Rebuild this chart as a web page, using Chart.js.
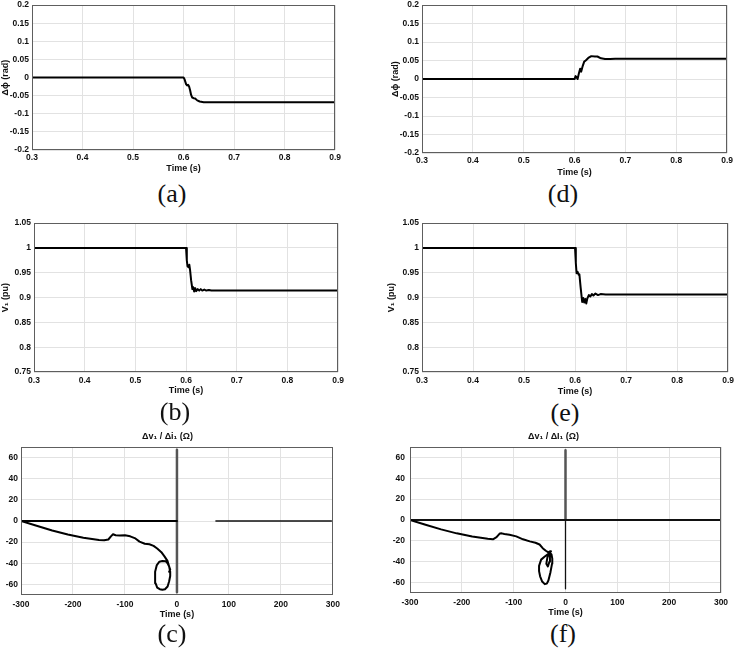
<!DOCTYPE html>
<html>
<head>
<meta charset="utf-8">
<script src="https://cdn.jsdelivr.net/npm/chart.js@4.4.1/dist/chart.umd.min.js"></script>
<style>
  body { margin: 0; background: #fff; }
  #fig { position: relative; width: 736px; height: 652px; overflow: hidden; background: #fff; }
  #fig canvas { position: absolute; }
  .tag { position: absolute; font: 26px "Liberation Serif", "Times New Roman", serif; color: #111; transform: translate(-50%, -50%); white-space: nowrap; }
</style>
</head>
<body>
<div id="fig">
  <canvas id="chA"></canvas>
  <canvas id="chD"></canvas>
  <canvas id="chB"></canvas>
  <canvas id="chE"></canvas>
  <canvas id="chC"></canvas>
  <canvas id="chF"></canvas>
  <div class="tag" style="left:172px;top:194px">(a)</div>
  <div class="tag" style="left:563px;top:194px">(d)</div>
  <div class="tag" style="left:175px;top:412px">(b)</div>
  <div class="tag" style="left:565px;top:413px">(e)</div>
  <div class="tag" style="left:172px;top:634px">(c)</div>
  <div class="tag" style="left:563px;top:634px">(f)</div>
</div>
<script>
// tick labels
const timeTicks = [0.3, 0.4, 0.5, 0.6, 0.7, 0.8, 0.9];
const phiTicks = [-0.2, -0.15, -0.1, -0.05, 0, 0.05, 0.1, 0.15, 0.2];
const voltTicks = [0.75, 0.8, 0.85, 0.9, 0.95, 1, 1.05];
const impXTicks = [-300, -200, -100, 0, 100, 200, 300];
const impYTicks = [-60, -40, -20, 0, 20, 40, 60];

// (a) phase deviation
const tA = [0.3, 0.6, 0.602, 0.605, 0.607, 0.609, 0.611, 0.613, 0.615, 0.617, 0.62, 0.623, 0.627, 0.632, 0.64, 0.65, 0.9];
const phiA = [0, 0, -0.005, -0.018, -0.022, -0.02, -0.025, -0.035, -0.048, -0.055, -0.057, -0.058, -0.063, -0.066, -0.068, -0.068, -0.068];

// (d) phase deviation
const tD = [0.3, 0.6, 0.602, 0.604, 0.606, 0.609, 0.611, 0.613, 0.616, 0.619, 0.622, 0.627, 0.633, 0.64, 0.645, 0.652, 0.66, 0.67, 0.68, 0.7, 0.9];
const phiD = [0, 0, 0.008, 0.005, 0, 0.018, 0.028, 0.02, 0.035, 0.047, 0.05, 0.057, 0.062, 0.061, 0.061, 0.056, 0.054, 0.054, 0.055, 0.055, 0.055];

// (b) voltage
const tB = [0.3, 0.6, 0.6015, 0.603, 0.605, 0.6065, 0.608, 0.61, 0.6125, 0.614, 0.616, 0.618, 0.62, 0.623, 0.626, 0.629, 0.632, 0.636, 0.64, 0.645, 0.65, 0.9];
const vB = [1, 1, 0.975, 0.963, 0.961, 0.966, 0.955, 0.935, 0.917, 0.921, 0.912, 0.919, 0.913, 0.917, 0.914, 0.917, 0.914, 0.916, 0.914, 0.915, 0.914, 0.914];

// (e) voltage
const tE = [0.3, 0.6, 0.6015, 0.603, 0.605, 0.607, 0.6085, 0.611, 0.614, 0.616, 0.618, 0.62, 0.622, 0.624, 0.627, 0.63, 0.633, 0.636, 0.64, 0.645, 0.65, 0.66, 0.9];
const vE = [1, 1, 0.97, 0.949, 0.952, 0.946, 0.947, 0.92, 0.891, 0.899, 0.89, 0.897, 0.888, 0.898, 0.905, 0.902, 0.907, 0.904, 0.908, 0.905, 0.907, 0.906, 0.906];

// (c) impedance trajectory
const cRe = [-300, -270, -240, -210, -180, -150, -140, -132, -127, -123, -118, -110, -100, -90, -80, -72, -62, -53, -45, -38, -30, -24, -18, -15, -13, -13, -15, -18, -23, -28, -33, -38, -41, -42, -42, -39, -34, -28, -22, -18, -15, -13, -15];
const cIm = [0, -4.5, -9, -12.8, -15.8, -18, -18.3, -17.5, -14.5, -12.5, -13.5, -13.8, -13.5, -14.5, -16.5, -19.5, -21.5, -22, -23.5, -26, -29.5, -33.5, -38, -43, -48, -52, -57, -62, -64.5, -65, -64.5, -63, -59, -53, -48, -42, -38.5, -37.8, -38, -40, -43, -46, -48];
const cZeroRe = [-300, 0];
const cZeroIm = [0, 0];
const cTailRe = [75, 297];
const cTailIm = [0, 0];
const cVertRe = [0, 0];
const cVertIm = [67.5, -67.5];

// (f) impedance trajectory
const fRe = [-300, -270, -240, -210, -180, -150, -140, -133, -127, -123, -118, -108, -95, -82, -69, -58, -50, -44, -38, -33, -30, -28, -33, -40, -47, -51, -51, -49, -45, -40, -36, -33, -29, -26, -25.5, -27, -31, -35, -37, -34, -31, -30, -29];
const fIm = [0, -4.5, -9, -12.8, -15.8, -18, -18.5, -16.5, -13, -12.8, -13.5, -14.2, -15.7, -18.5, -20.5, -21.8, -23.5, -27, -29.5, -31, -30, -30, -32.5, -35, -38, -44, -49, -54, -59, -61.5, -61, -58, -50, -42, -37, -33, -31, -36, -42, -44.5, -40, -34, -30];
const fZeroRe = [-300, 300];
const fZeroIm = [0, 0];
const fVertUpRe = [0, 0];
const fVertUpIm = [67, 0];
const fVertDnRe = [0, 0];
const fVertDnIm = [0, -66];

const AXIS_FONT = '"Liberation Sans", Arial, Helvetica, sans-serif';
const INK = '#111';
const GRID = '#e2e2e2';

const fmt = v => String(Math.round(v * 1000) / 1000);

// MATLAB style box around the plot area
const boxPlugin = {
  id: 'box',
  afterDraw(chart) {
    const { ctx, chartArea: a } = chart;
    ctx.save();
    ctx.strokeStyle = '#5e5e5e';
    ctx.lineWidth = 1;
    ctx.strokeRect(Math.round(a.left) + 0.5, Math.round(a.top) + 0.5, Math.round(a.width) - 1, Math.round(a.height) - 1);
    ctx.restore();
  }
};

function series(xs, ys, color = '#000', width = 2) {
  return {
    data: xs.map((x, i) => ({ x, y: ys[i] })),
    showLine: true,
    borderColor: color,
    borderWidth: width,
    borderJoinStyle: 'round',
    borderCapStyle: 'round',
    pointRadius: 0,
    tension: 0
  };
}

function makeAxis(o) {
  return {
    type: 'linear',
    position: o.pos,
    min: o.min,
    max: o.max,
    afterBuildTicks: s => { s.ticks = o.ticks.map(v => ({ value: v })); },
    afterFit: s => { if (o.pos === 'left') s.width = o.size; else s.height = o.size; },
    grid: { color: GRID, lineWidth: 1, drawTicks: false },
    border: { display: false },
    ticks: {
      padding: o.pad, color: INK, autoSkip: false, maxRotation: 0,
      font: { family: AXIS_FONT, size: 8.5, weight: 'bold' },
      callback: fmt
    },
    title: {
      display: !!o.title, text: o.title, color: INK,
      font: { family: AXIS_FONT, size: 9, weight: 'bold', lineHeight: 1.2 },
      padding: o.titlePad
    }
  };
}

function panel(id, p) {
  const top = p.title ? 17 : p.tp;
  const cv = document.getElementById(id);
  cv.width = p.R - p.L + p.yw + p.rp;
  cv.height = p.B - p.T + top + 26;
  cv.style.left = (p.L - p.yw) + 'px';
  cv.style.top = (p.T - top) + 'px';
  new Chart(cv, {
    type: 'scatter',
    data: { datasets: p.datasets },
    options: {
      responsive: false,
      animation: false,
      devicePixelRatio: 1,
      layout: { padding: { left: 0, top: p.title ? 0 : p.tp, right: p.rp, bottom: 0 } },
      plugins: {
        legend: { display: false },
        tooltip: { enabled: false },
        title: {
          display: !!p.title, text: p.title, color: INK,
          font: { family: AXIS_FONT, size: 9, weight: 'bold', lineHeight: 1.2 },
          padding: { top: 1, bottom: 5.2 }
        }
      },
      scales: {
        x: makeAxis({ pos: 'bottom', min: p.xMin, max: p.xMax, ticks: p.xTicks, size: 26, pad: p.xPad,
                      title: 'Time (s)', titlePad: { top: 0, bottom: p.xtp } }),
        y: makeAxis({ pos: 'left', min: p.yMin, max: p.yMax, ticks: p.yTicks, size: p.yw, pad: p.yPad,
                      title: p.yTitle, titlePad: { top: p.ytp, bottom: 0 } })
      }
    },
    plugins: [boxPlugin]
  });
}

panel('chA', { L: 32, T: 3, R: 336, B: 150, yw: 32, tp: 6, rp: 8, xPad: 3, yPad: 3, xtp: 1.6, ytp: 0,
  xMin: 0.3, xMax: 0.9, xTicks: timeTicks, yMin: -0.2, yMax: 0.2, yTicks: phiTicks, yTitle: 'Δϕ (rad)',
  datasets: [series(tA, phiA)] });

panel('chD', { L: 422, T: 3, R: 729, B: 153, yw: 38, tp: 6, rp: 7, xPad: 3, yPad: 3, xtp: 1.3, ytp: 6.6,
  xMin: 0.3, xMax: 0.9, xTicks: timeTicks, yMin: -0.2, yMax: 0.2, yTicks: phiTicks, yTitle: 'Δϕ (rad)',
  datasets: [series(tD, phiD)] });

panel('chB', { L: 34, T: 223, R: 340, B: 372, yw: 34, tp: 8, rp: 8, xPad: 4, yPad: 3, xtp: 1.6, ytp: 0,
  xMin: 0.3, xMax: 0.9, xTicks: timeTicks, yMin: 0.75, yMax: 1.05, yTicks: voltTicks, yTitle: 'V₁ (pu)',
  datasets: [series(tB, vB)] });

panel('chE', { L: 422, T: 223, R: 731, B: 372, yw: 38, tp: 8, rp: 7, xPad: 4, yPad: 3, xtp: 1, ytp: 2.6,
  xMin: 0.3, xMax: 0.9, xTicks: timeTicks, yMin: 0.75, yMax: 1.05, yTicks: voltTicks, yTitle: 'V₁ (pu)',
  datasets: [series(tE, vE)] });

panel('chC', { L: 21, T: 447, R: 335, B: 595, yw: 21, rp: 10, xPad: 5, yPad: 3, xtp: 0.6, ytp: 0,
  title: 'Δv₁ / Δi₁ (Ω)',
  xMin: -300, xMax: 300, xTicks: impXTicks, yMin: -70, yMax: 70, yTicks: impYTicks, yTitle: '',
  datasets: [
    series(cRe, cIm),
    series(cZeroRe, cZeroIm),
    series(cTailRe, cTailIm, '#111', 1.5),
    series(cVertRe, cVertIm, '#555', 2.5)
  ] });

panel('chF', { L: 410, T: 447, R: 721, B: 593, yw: 24, rp: 15, xPad: 5, yPad: 5, xtp: 0.9, ytp: 0,
  title: 'Δv₁ / ΔI₁ (Ω)',
  xMin: -300, xMax: 300, xTicks: impXTicks, yMin: -70, yMax: 70, yTicks: impYTicks, yTitle: '',
  datasets: [
    series(fRe, fIm),
    series(fZeroRe, fZeroIm, '#111', 1.8),
    series(fVertUpRe, fVertUpIm, '#555', 2.5),
    series(fVertDnRe, fVertDnIm, '#111', 1.3)
  ] });
</script>
</body>
</html>
